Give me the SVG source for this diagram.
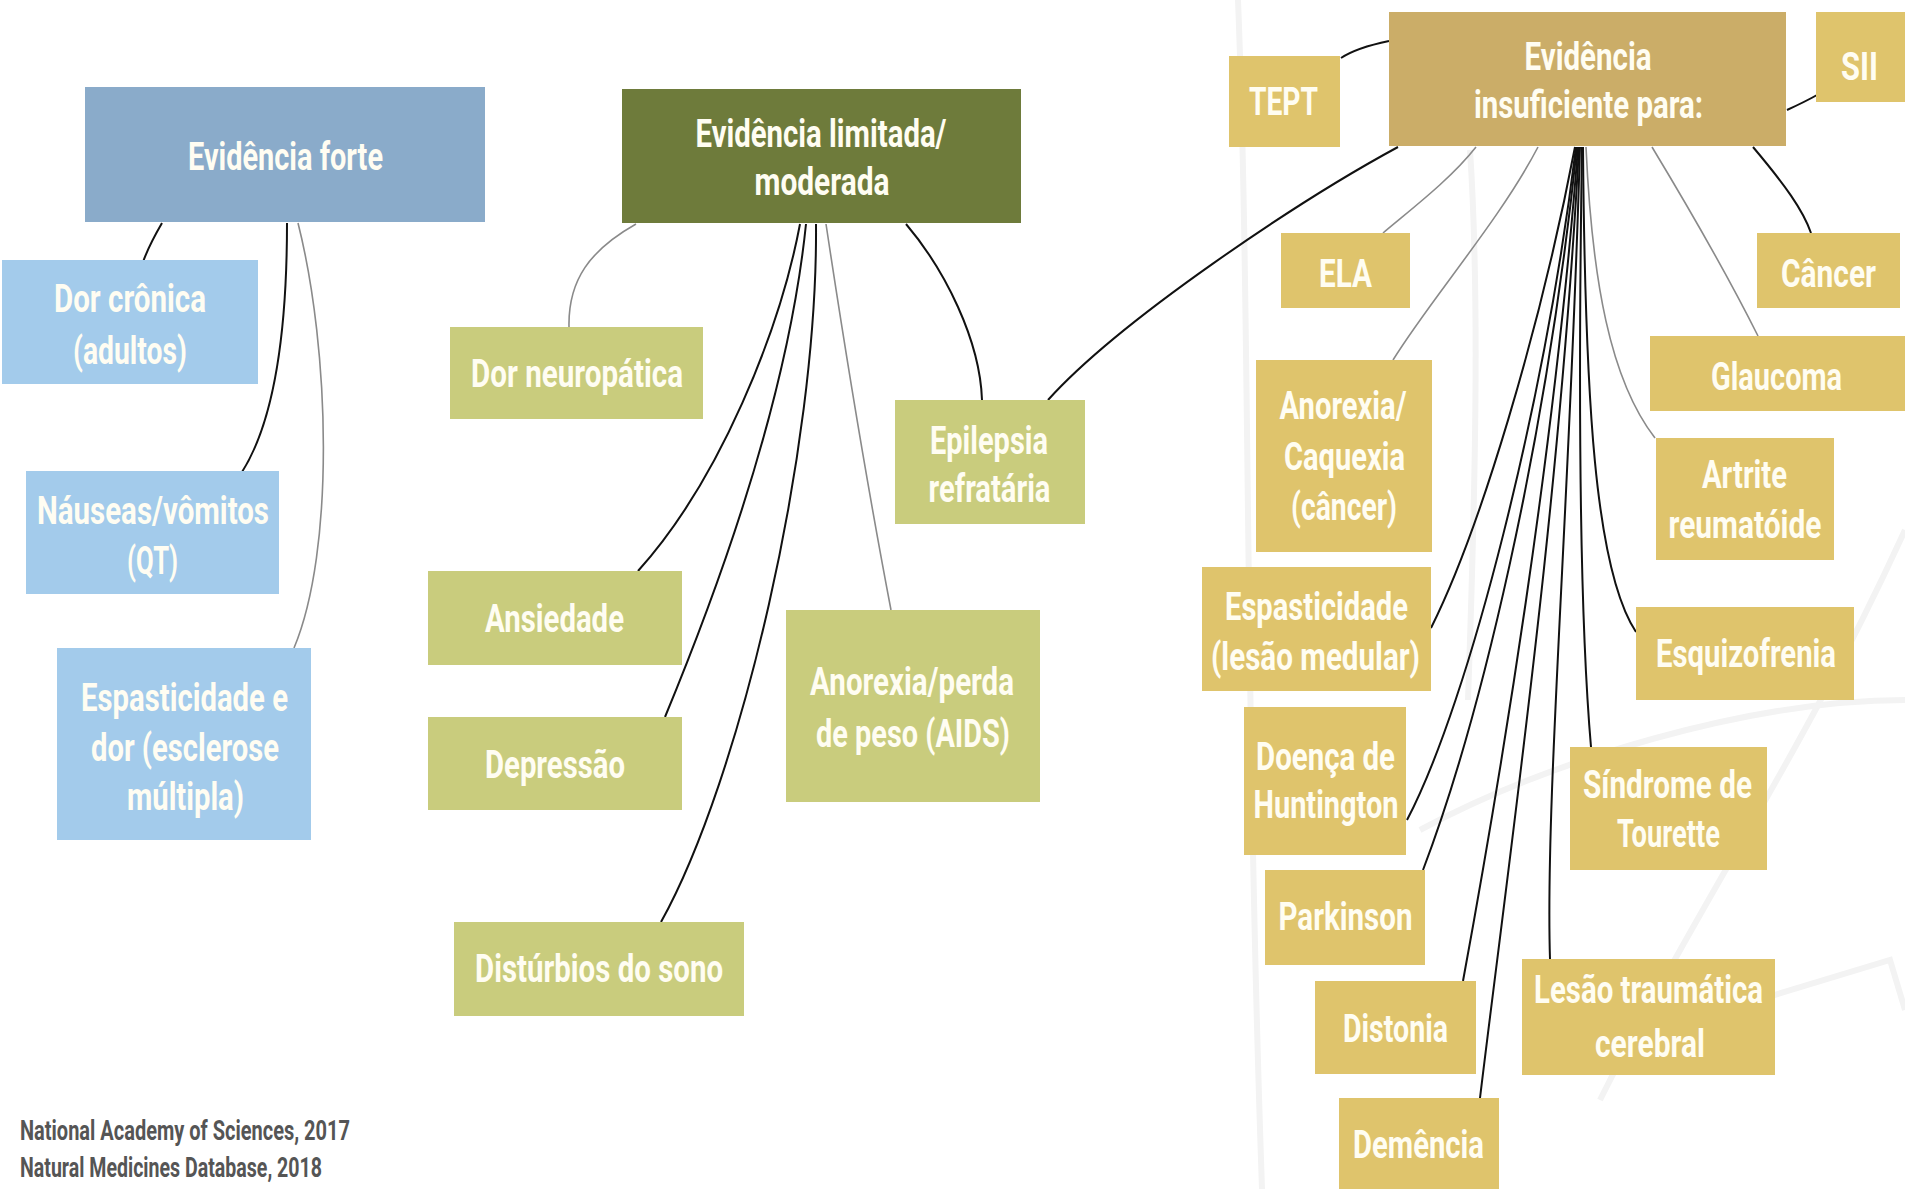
<svg xmlns="http://www.w3.org/2000/svg" width="1905" height="1189" viewBox="0 0 1905 1189">
<style>
.t{font-family:Roboto,"Liberation Sans",sans-serif;font-size:39px;font-weight:700;fill:#fffdf2;text-anchor:middle}
.h{font-size:39px}
.b1{fill:#8aabca}.b2{fill:#a3cbeb}.o1{fill:#6e7b3b}.o2{fill:#c9cc7d}.g1{fill:#cbad68}.g2{fill:#dfc46c}
.k{fill:none;stroke:#111;stroke-width:2}
.y{fill:none;stroke:#8a8a8a;stroke-width:1.6}
.bg{fill:none;stroke:#f3f3f3;stroke-width:6}
.ft{font-family:Roboto,"Liberation Sans",sans-serif;font-size:27px;font-weight:700;fill:#555}
</style>
<rect width="1905" height="1189" fill="#fff"/>
<g id="background">
<path class="bg" d="M1238,0 C1250,300 1245,700 1262,1189"/>
<path class="bg" d="M1470,150 C1480,300 1475,500 1468,700"/>
<path class="bg" d="M1905,530 C1800,760 1700,900 1600,1100"/>
<path class="bg" d="M1560,1060 L1890,960 L1905,1010"/>
<path class="bg" d="M1420,830 C1550,760 1750,700 1905,700"/>
</g>
<g id="connectors">
<path class="k" d="M162,223 C155,235 148,248 143,262"/>
<path class="k" d="M287,223 C287,330 275,420 242,472"/>
<path class="y" d="M298,223 C330,350 335,550 294,648"/>
<path class="y" d="M636,224 C590,250 568,280 569,327"/>
<path class="k" d="M800,224 C780,330 720,480 638,571"/>
<path class="k" d="M806,224 C790,380 730,560 665,717"/>
<path class="k" d="M816,224 C818,450 740,780 661,922"/>
<path class="y" d="M826,224 C845,350 870,500 891,610"/>
<path class="k" d="M906,224 C945,270 980,340 982,400"/>
<path class="k" d="M1389,41 C1365,46 1350,52 1341,58"/>
<path class="k" d="M1787,110 C1800,104 1810,99 1817,95"/>
<path class="k" d="M1398,147 C1300,200 1120,320 1048,400"/>
<path class="y" d="M1476,147 C1450,180 1410,210 1383,233"/>
<path class="y" d="M1538,147 C1500,220 1430,300 1393,360"/>
<path class="y" d="M1652,147 C1690,210 1730,280 1758,336"/>
<path class="k" d="M1753,147 C1785,185 1803,210 1811,233"/>
<path class="y" d="M1586,147 C1592,280 1610,380 1655,438"/>
<path class="k" d="M1583,147 C1585,400 1595,570 1636,632"/>
<path class="k" d="M1582,147 C1578,400 1580,620 1591,747"/>
<path class="k" d="M1580,147 C1570,500 1545,800 1550,959"/>
<path class="k" d="M1579,147 C1560,500 1510,850 1480,1098"/>
<path class="k" d="M1578,147 C1555,450 1500,780 1463,981"/>
<path class="k" d="M1577,147 C1545,450 1480,720 1423,870"/>
<path class="k" d="M1576,147 C1545,400 1470,700 1407,820"/>
<path class="k" d="M1575,147 C1540,330 1480,530 1431,628"/>
</g>
<g id="ev-forte"><rect class="b1" x="85" y="87" width="400" height="135"/><text class="t h" x="285.5" y="170" textLength="195" lengthAdjust="spacingAndGlyphs">Evidência forte</text></g>
<g id="dor-cronica"><rect class="b2" x="2" y="260" width="256" height="124"/><text class="t" x="130" y="312" textLength="152" lengthAdjust="spacingAndGlyphs">Dor crônica</text><text class="t" x="130" y="364" textLength="114" lengthAdjust="spacingAndGlyphs">(adultos)</text></g>
<g id="nauseas"><rect class="b2" x="26" y="471" width="253" height="123"/><text class="t" x="153" y="524" textLength="232" lengthAdjust="spacingAndGlyphs">Náuseas/vômitos</text><text class="t" x="152.5" y="574" textLength="51" lengthAdjust="spacingAndGlyphs">(QT)</text></g>
<g id="espast-em"><rect class="b2" x="57" y="648" width="254" height="192"/><text class="t" x="184.5" y="711" textLength="207" lengthAdjust="spacingAndGlyphs">Espasticidade e</text><text class="t" x="185" y="761" textLength="188" lengthAdjust="spacingAndGlyphs">dor (esclerose</text><text class="t" x="185.5" y="810" textLength="117" lengthAdjust="spacingAndGlyphs">múltipla)</text></g>
<g id="ev-limitada"><rect class="o1" x="622" y="89" width="399" height="134"/><text class="t h" x="821" y="147" textLength="251" lengthAdjust="spacingAndGlyphs">Evidência limitada/</text><text class="t h" x="822" y="195" textLength="135" lengthAdjust="spacingAndGlyphs">moderada</text></g>
<g id="dor-neuro"><rect class="o2" x="450" y="327" width="253" height="92"/><text class="t" x="577" y="387" textLength="212" lengthAdjust="spacingAndGlyphs">Dor neuropática</text></g>
<g id="epilepsia"><rect class="o2" x="895" y="400" width="190" height="124"/><text class="t" x="989" y="454" textLength="118" lengthAdjust="spacingAndGlyphs">Epilepsia</text><text class="t" x="989.5" y="502" textLength="122" lengthAdjust="spacingAndGlyphs">refratária</text></g>
<g id="ansiedade"><rect class="o2" x="428" y="571" width="254" height="94"/><text class="t" x="554.5" y="632" textLength="139" lengthAdjust="spacingAndGlyphs">Ansiedade</text></g>
<g id="depressao"><rect class="o2" x="428" y="717" width="254" height="93"/><text class="t" x="555" y="778" textLength="140" lengthAdjust="spacingAndGlyphs">Depressão</text></g>
<g id="anorexia-aids"><rect class="o2" x="786" y="610" width="254" height="192"/><text class="t" x="912" y="695" textLength="204" lengthAdjust="spacingAndGlyphs">Anorexia/perda</text><text class="t" x="913" y="747" textLength="194" lengthAdjust="spacingAndGlyphs">de peso (AIDS)</text></g>
<g id="disturbios"><rect class="o2" x="454" y="922" width="290" height="94"/><text class="t" x="599" y="982" textLength="248" lengthAdjust="spacingAndGlyphs">Distúrbios do sono</text></g>
<g id="ev-insuf"><rect class="g1" x="1389" y="12" width="397" height="134"/><text class="t h" x="1588" y="70" textLength="127" lengthAdjust="spacingAndGlyphs">Evidência</text><text class="t h" x="1588.5" y="118" textLength="229" lengthAdjust="spacingAndGlyphs">insuficiente para:</text></g>
<g id="tept"><rect class="g2" x="1229" y="56" width="111" height="91"/><text class="t" x="1283.5" y="115" textLength="69" lengthAdjust="spacingAndGlyphs">TEPT</text></g>
<g id="sii"><rect class="g2" x="1816" y="12" width="89" height="90"/><text class="t" x="1859.5" y="80" textLength="37" lengthAdjust="spacingAndGlyphs">SII</text></g>
<g id="ela"><rect class="g2" x="1281" y="233" width="129" height="75"/><text class="t" x="1345.5" y="287" textLength="53" lengthAdjust="spacingAndGlyphs">ELA</text></g>
<g id="cancer"><rect class="g2" x="1757" y="233" width="143" height="75"/><text class="t" x="1828.5" y="287" textLength="95" lengthAdjust="spacingAndGlyphs">Câncer</text></g>
<g id="glaucoma"><rect class="g2" x="1650" y="336" width="255" height="75"/><text class="t" x="1776.5" y="390" textLength="131" lengthAdjust="spacingAndGlyphs">Glaucoma</text></g>
<g id="anorexia-caq"><rect class="g2" x="1256" y="360" width="176" height="192"/><text class="t" x="1343" y="419" textLength="127" lengthAdjust="spacingAndGlyphs">Anorexia/</text><text class="t" x="1344.5" y="470" textLength="121" lengthAdjust="spacingAndGlyphs">Caquexia</text><text class="t" x="1344" y="520" textLength="106" lengthAdjust="spacingAndGlyphs">(câncer)</text></g>
<g id="artrite"><rect class="g2" x="1656" y="438" width="178" height="122"/><text class="t" x="1744.5" y="488" textLength="85" lengthAdjust="spacingAndGlyphs">Artrite</text><text class="t" x="1745" y="538" textLength="153" lengthAdjust="spacingAndGlyphs">reumatóide</text></g>
<g id="espast-lm"><rect class="g2" x="1202" y="567" width="229" height="124"/><text class="t" x="1316.5" y="620" textLength="183" lengthAdjust="spacingAndGlyphs">Espasticidade</text><text class="t" x="1315.5" y="670" textLength="209" lengthAdjust="spacingAndGlyphs">(lesão medular)</text></g>
<g id="esquizofrenia"><rect class="g2" x="1636" y="607" width="218" height="93"/><text class="t" x="1746" y="667" textLength="180" lengthAdjust="spacingAndGlyphs">Esquizofrenia</text></g>
<g id="huntington"><rect class="g2" x="1244" y="707" width="162" height="148"/><text class="t" x="1325.5" y="770" textLength="139" lengthAdjust="spacingAndGlyphs">Doença de</text><text class="t" x="1326" y="818" textLength="145" lengthAdjust="spacingAndGlyphs">Huntington</text></g>
<g id="tourette"><rect class="g2" x="1570" y="747" width="197" height="123"/><text class="t" x="1667.5" y="798" textLength="169" lengthAdjust="spacingAndGlyphs">Síndrome de</text><text class="t" x="1668.5" y="847" textLength="103" lengthAdjust="spacingAndGlyphs">Tourette</text></g>
<g id="parkinson"><rect class="g2" x="1265" y="870" width="160" height="95"/><text class="t" x="1345.5" y="930" textLength="134" lengthAdjust="spacingAndGlyphs">Parkinson</text></g>
<g id="lesao"><rect class="g2" x="1522" y="959" width="253" height="116"/><text class="t" x="1648.5" y="1003" textLength="229" lengthAdjust="spacingAndGlyphs">Lesão traumática</text><text class="t" x="1650" y="1057" textLength="110" lengthAdjust="spacingAndGlyphs">cerebral</text></g>
<g id="distonia"><rect class="g2" x="1315" y="981" width="161" height="93"/><text class="t" x="1395.5" y="1042" textLength="105" lengthAdjust="spacingAndGlyphs">Distonia</text></g>
<g id="demencia"><rect class="g2" x="1339" y="1098" width="160" height="91"/><text class="t" x="1418.5" y="1158" textLength="131" lengthAdjust="spacingAndGlyphs">Demência</text></g>
<g id="footer"><text class="ft" x="20" y="1140" textLength="330" lengthAdjust="spacingAndGlyphs">National Academy of Sciences, 2017</text><text class="ft" x="20" y="1177" textLength="302" lengthAdjust="spacingAndGlyphs">Natural Medicines Database, 2018</text></g>
</svg>
